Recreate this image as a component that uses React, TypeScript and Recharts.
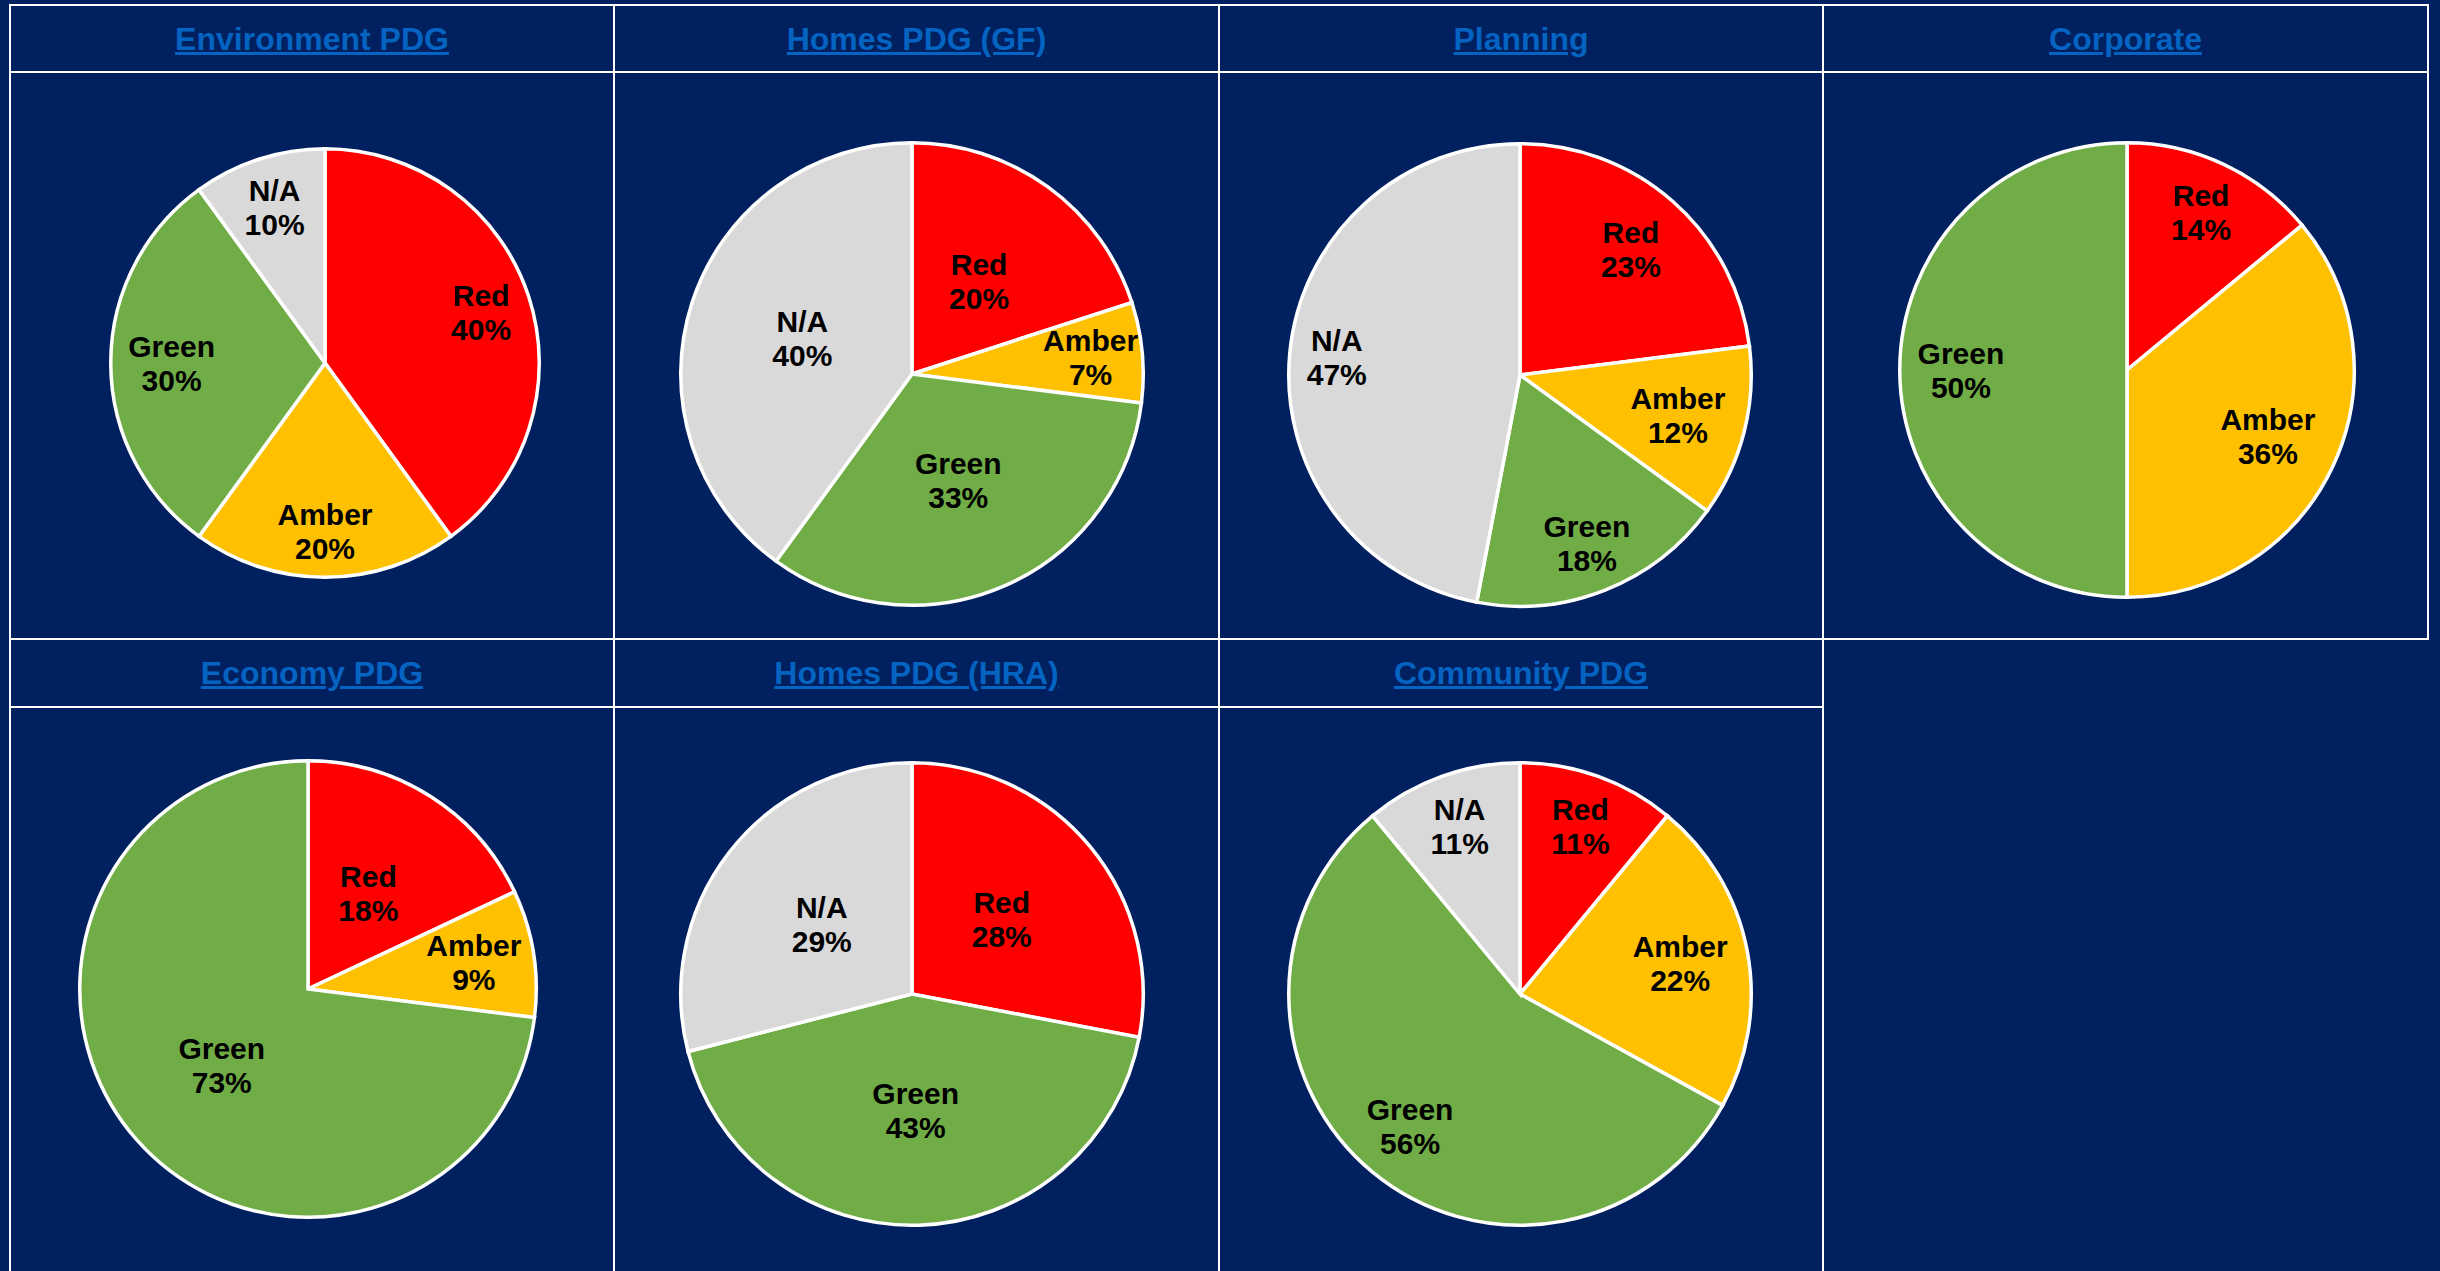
import React from 'react';
import { PieChart, Pie, Cell } from 'recharts';

// ---------- data ----------
const CATEGORIES = ['Red', 'Amber', 'Green', 'N/A'];
const TITLES = [
  'Environment PDG',
  'Homes PDG (GF)',
  'Planning',
  'Corporate',
  'Economy PDG',
  'Homes PDG (HRA)',
  'Community PDG',
];
// percentages per category, in CATEGORIES order (0 = category absent)
const environmentValues = [40, 20, 30, 10];
const homesGFValues = [20, 7, 33, 40];
const planningValues = [23, 12, 18, 47];
const corporateValues = [14, 36, 50, 0];
const economyValues = [18, 9, 73, 0];
const homesHRAValues = [28, 0, 43, 29];
const communityValues = [11, 22, 56, 11];

const SERIES = [
  environmentValues,
  homesGFValues,
  planningValues,
  corporateValues,
  economyValues,
  homesHRAValues,
  communityValues,
];

// ---------- style / layout ----------
const COLORS = ['#FF0000', '#FFC000', '#70AD47', '#D9D9D9'];
const BG = '#002060';
const LINE = '#FFFFFF';
const TITLE_COLOR = '#0563C1';
const FONT = "'Liberation Sans', Arial, Helvetica, sans-serif";
const LABEL_SIZE = 30;

const PIE_LAYOUT = [
  { cx: 325, cy: 363, r: 216, labelR: [0.76, 0.78, 0.71, 0.755] },
  { cx: 912, cy: 374, r: 233, labelR: [0.49, 0.77, 0.5, 0.495] },
  { cx: 1520, cy: 375, r: 233, labelR: [0.72, 0.7, 0.78, 0.79] },
  { cx: 2127, cy: 370, r: 229, labelR: [0.76, 0.68, 0.725, 0.7] },
  { cx: 308, cy: 989, r: 230, labelR: [0.49, 0.73, 0.5, 0.7] },
  { cx: 912, cy: 994, r: 233, labelR: [0.5, 0.7, 0.5, 0.49] },
  { cx: 1520, cy: 994, r: 233, labelR: [0.765, 0.7, 0.74, 0.765] },
];

const COL_X = [10, 614, 1219, 1823, 2428];
const ROW_Y = [5, 72, 639, 707];

const RAD = Math.PI / 180;

function makeLabel(layout: { cx: number; cy: number; r: number; labelR: number[] }) {
  return (props: any) => {
    const { midAngle, name, value } = props;
    const ci = CATEGORIES.indexOf(name);
    const rr = layout.r * layout.labelR[ci];
    const x = layout.cx + rr * Math.cos(-midAngle * RAD);
    const y = layout.cy + rr * Math.sin(-midAngle * RAD);
    return (
      <text
        x={x}
        y={y}
        textAnchor="middle"
        fill="#000000"
        fontFamily={FONT}
        fontWeight="bold"
        fontSize={LABEL_SIZE}
      >
        <tspan x={x} y={y - 6.5}>{name}</tspan>
        <tspan x={x} y={y + 27.5}>{`${value}%`}</tspan>
      </text>
    );
  };
}

function HLine({ y, x1, x2 }: { y: number; x1: number; x2: number }) {
  return (
    <div
      style={{
        position: 'absolute',
        left: x1 - 1,
        top: y - 1,
        width: x2 - x1 + 2,
        height: 2,
        background: LINE,
      }}
    />
  );
}
function VLine({ x, y1, y2 }: { x: number; y1: number; y2: number }) {
  return (
    <div
      style={{
        position: 'absolute',
        left: x - 1,
        top: y1 - 1,
        width: 2,
        height: y2 - y1 + 2,
        background: LINE,
      }}
    />
  );
}

function Title({ text, col, row }: { text: string; col: number; row: number }) {
  const top = row === 0 ? ROW_Y[0] : ROW_Y[2];
  const bottom = row === 0 ? ROW_Y[1] : ROW_Y[3];
  return (
    <div
      style={{
        position: 'absolute',
        left: COL_X[col],
        top,
        width: COL_X[col + 1] - COL_X[col],
        height: bottom - top,
        display: 'flex',
        alignItems: 'center',
        justifyContent: 'center',
        fontFamily: FONT,
        fontWeight: 'bold',
        fontSize: 32,
        color: TITLE_COLOR,
        textDecoration: 'underline',
        lineHeight: 1,
      }}
    >
      {text}
    </div>
  );
}

export default function App() {
  return (
    <div
      style={{
        position: 'absolute',
        left: 0,
        top: 0,
        width: 2440,
        height: 1271,
        background: BG,
        overflow: 'hidden',
      }}
    >
      {/* table grid */}
      <HLine y={ROW_Y[0]} x1={COL_X[0]} x2={COL_X[4]} />
      <HLine y={ROW_Y[1]} x1={COL_X[0]} x2={COL_X[4]} />
      <HLine y={ROW_Y[2]} x1={COL_X[0]} x2={COL_X[4]} />
      <HLine y={ROW_Y[3]} x1={COL_X[0]} x2={COL_X[3]} />
      <VLine x={COL_X[0]} y1={ROW_Y[0]} y2={1280} />
      <VLine x={COL_X[1]} y1={ROW_Y[0]} y2={1280} />
      <VLine x={COL_X[2]} y1={ROW_Y[0]} y2={1280} />
      <VLine x={COL_X[3]} y1={ROW_Y[0]} y2={1280} />
      <VLine x={COL_X[4]} y1={ROW_Y[0]} y2={ROW_Y[2]} />

      {TITLES.map((t, i) => (
        <Title key={t} text={t} col={i % 4} row={i < 4 ? 0 : 1} />
      ))}

      <div style={{ position: 'absolute', left: 0, top: 0 }}>
        <PieChart width={2440} height={1271} margin={{ top: 0, right: 0, bottom: 0, left: 0 }}>
          {SERIES.map((vals, i) => {
            const layout = PIE_LAYOUT[i];
            const data = CATEGORIES.map((c, ci) => ({ name: c, value: vals[ci], color: COLORS[ci] })).filter(
              (d) => d.value > 0
            );
            return (
              <Pie
                key={TITLES[i]}
                data={data}
                dataKey="value"
                nameKey="name"
                cx={layout.cx}
                cy={layout.cy}
                outerRadius={layout.r - 1.75}
                innerRadius={0}
                startAngle={90}
                endAngle={-270}
                stroke="#FFFFFF"
                strokeWidth={3.5}
                isAnimationActive={false}
                labelLine={false}
                label={makeLabel(layout)}
              >
                {data.map((d) => (
                  <Cell key={d.name} fill={d.color} />
                ))}
              </Pie>
            );
          })}
        </PieChart>
      </div>
    </div>
  );
}
